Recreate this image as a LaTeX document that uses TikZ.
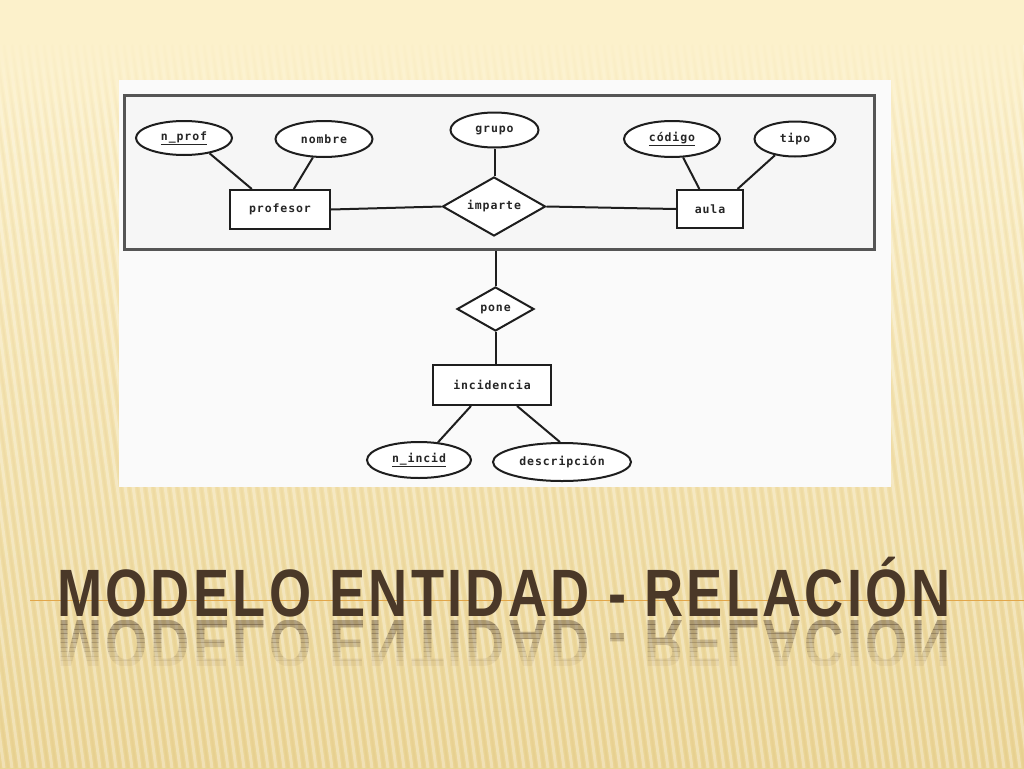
\documentclass[tikz,border=0pt]{standalone}
\usepackage{fontspec}
\usepackage{graphicx}
\usetikzlibrary{shapes.geometric,fadings}
\setmainfont{Liberation Sans}
\newfontfamily\erfont[LetterSpace=8]{DejaVu Sans Mono}
\newfontfamily\titlefont[LetterSpace=6]{Liberation Sans}
\definecolor{bgtop}{HTML}{FCF1CB}
\definecolor{bgmid}{HTML}{F4E1AA}
\definecolor{bgbot}{HTML}{EAD494}
\definecolor{titlecol}{HTML}{4A3828}
\definecolor{orangeline}{HTML}{E2A64A}
\definecolor{framecol}{HTML}{555555}
\definecolor{imgbg}{HTML}{FAFAFA}
\definecolor{framefill}{HTML}{F6F6F6}
\definecolor{erline}{HTML}{1E1E1E}
\tikzfading[name=fadeup, top color=transparent!0, bottom color=transparent!100]
\newcommand{\titletext}{\resizebox{893pt}{\height}{\titlefont\fontsize{67}{70}\selectfont\bfseries MODELO ENTIDAD - RELACIÓN}}
\begin{document}
\begin{tikzpicture}[x=1pt,y=-1pt,
  erfontstyle/.style={font=\erfont\fontsize{11.5}{13}\selectfont\bfseries, text=black!85},
  ent/.style={draw=erline, line width=2pt, fill=white, rectangle, inner sep=0pt, erfontstyle},
  attr/.style={draw=erline, line width=2pt, fill=white, ellipse, inner sep=0pt, erfontstyle},
  rel/.style={draw=erline, line width=2pt, fill=white, diamond, aspect=1.75, inner sep=0pt, erfontstyle},
  conn/.style={draw=erline, line width=2pt},
  stripe/.style={line width=3pt, white, opacity=0.3},
  dstripe/.style={line width=2pt, brown!60!bgbot, opacity=0.08}]
\useasboundingbox (0,0) rectangle (1024,768);
% background
\fill[bgtop] (0,0) rectangle (1024,768);
\shade[top color=bgtop, middle color=bgmid, bottom color=bgbot] (0,40) rectangle (1024,768);
\foreach \x in {-120,-112,...,1024} {
  \draw[stripe] (\x,45) -- (\x+100,768);
  \draw[dstripe] (\x+4,45) -- (\x+104,768);
}
\fill[bgtop, path fading=fadeup] (0,30) rectangle (1024,140);
% orange line
\draw[orangeline, line width=1pt] (30,600) -- (1024,600);
% diagram image
\fill[imgbg] (119,80) rectangle (891,487);
\node[draw=framecol, line width=3pt, fill=framefill, minimum width=750pt, minimum height=154pt, inner sep=0pt] (frame) at (499,172) {};
% attributes
\node[attr, minimum width=96pt, minimum height=34pt] (nprof) at (184,138) {\underline{n\_prof}};
\node[attr, minimum width=97pt, minimum height=36pt] (nombre) at (324,139) {nombre};
\node[attr, minimum width=88pt, minimum height=35pt] (grupo) at (494.5,130) {grupo};
\node[attr, minimum width=96pt, minimum height=36pt] (codigo) at (672,139) {\underline{código}};
\node[attr, minimum width=81pt, minimum height=35pt] (tipo) at (795,139) {tipo};
% entities and relations
\node[ent, minimum width=100pt, minimum height=39pt] (profesor) at (280,209.5) {profesor};
\node[rel, minimum width=103pt, minimum height=59pt] (imparte) at (494,206.5) {imparte};
\node[ent, minimum width=66pt, minimum height=38pt] (aula) at (710,209) {aula};
\node[rel, minimum width=77pt, minimum height=44pt] (pone) at (495.5,309) {pone};
\node[ent, minimum width=118pt, minimum height=40pt] (incidencia) at (492,385) {incidencia};
\node[attr, minimum width=104pt, minimum height=36pt] (nincid) at (419,460) {\underline{n\_incid}};
\node[attr, minimum width=138pt, minimum height=38pt] (descripcion) at (562,462) {descripción};
% connectors
\draw[conn] (nprof.-31) -- (profesor.144);
\draw[conn] (nombre.-121) -- (profesor.56);
\draw[conn] (grupo.south) -- (grupo.south |- imparte.north);
\draw[conn] (profesor.east) -- (imparte.west);
\draw[conn] (imparte.east) -- (aula.west);
\draw[conn] (codigo.-59) -- (aula.118);
\draw[conn] (tipo.219) -- (aula.36);
\draw[conn] (pone.north) -- (pone.north |- frame.south);
\draw[conn] (pone.south) -- (pone.south |- incidencia.north);
\draw[conn] (incidencia.225) -- (nincid.43);
\draw[conn] (incidencia.-40) -- (descripcion.96);
% title
\node[anchor=base west, inner sep=0pt, text=titlecol] (title) at (57,616) {\titletext};
% reflection, fading out in strips
\foreach \i in {0,...,9} {
  \begin{scope}
    \clip (40,{620+4.5*\i}) rectangle (980,{624.5+4.5*\i});
    \pgfmathsetmacro{\op}{0.40-0.038*\i}
    \node[anchor=base west, inner sep=0pt, text=titlecol, opacity=\op] (reflection\i) at (57,620)
      {\scalebox{1}[-1]{\titletext}};
  \end{scope}
}
\end{tikzpicture}
\end{document}
